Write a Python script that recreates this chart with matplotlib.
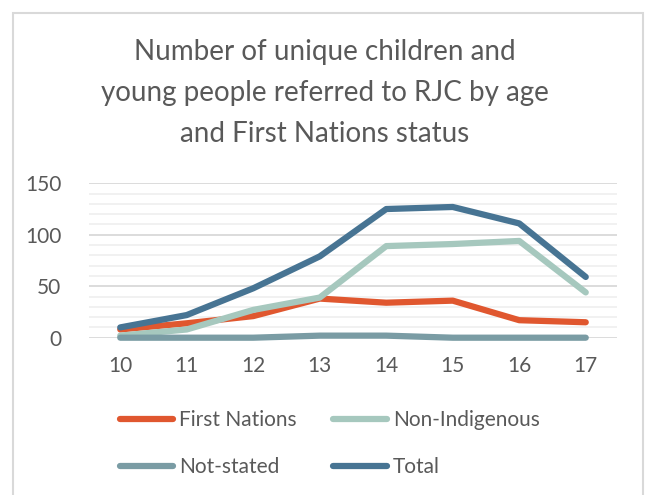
import matplotlib.pyplot as plt
from matplotlib.patches import Rectangle

ages = [10, 11, 12, 13, 14, 15, 16, 17]
first_nations = [8, 14, 21, 38, 34, 36, 17, 15]
non_indigenous = [2, 8, 27, 39, 89, 91, 94, 44]
not_stated = [0, 0, 0, 2, 2, 0, 0, 0]
total = [10, 22, 48, 79, 125, 127, 111, 59]

series = [
    ('First Nations', first_nations, '#E0572F'),
    ('Non-Indigenous', non_indigenous, '#A6C8BE'),
    ('Not-stated', not_stated, '#7A9CA4'),
    ('Total', total, '#477493'),
]

plt.rcParams['font.family'] = ['Lato', 'DejaVu Sans']
text_col = '#595959'

fig = plt.figure(figsize=(6.49, 4.95), dpi=100)
fig.patch.set_facecolor('white')

# chart area border
fig.patches.append(Rectangle((13 / 649, -0.05), 630 / 649, (495 - 13) / 495 + 0.05,
                             transform=fig.transFigure, fill=False,
                             edgecolor='#D9D9D9', linewidth=1.5))

ax = fig.add_axes([89 / 649, (495 - 337.7) / 495, 528 / 649, 154.4 / 495])

handles = {}
for name, vals, col in series:
    ln, = ax.plot(ages, vals, color=col, linewidth=4.5, solid_capstyle='round',
                  solid_joinstyle='round', clip_on=False, label=name, zorder=3)
    handles[name] = ln

ax.set_xlim(9.53, 17.47)
ax.set_ylim(0, 150)
ax.set_yticks([0, 50, 100, 150])
ax.set_yticks(range(10, 150, 10), minor=True)
ax.set_xticks(ages)
ax.grid(axis='y', which='major', color='#D9D9D9', linewidth=1.3, zorder=0)
ax.grid(axis='y', which='minor', color='#F0F0F0', linewidth=1.3, zorder=0)
ax.tick_params(axis='both', which='both', length=0, labelsize=15, labelcolor=text_col)
ax.tick_params(axis='y', pad=20)
ax.tick_params(axis='x', pad=13)
for s in ax.spines.values():
    s.set_visible(False)

fig.text(0.5, 1 - 93 / 495, 'Number of unique children and\nyoung people referred to RJC by age\nand First Nations status',
         ha='center', va='center', fontsize=20, color=text_col, linespacing=1.72)

# legend fills columns first, so order the handles to read across rows
order = ['First Nations', 'Not-stated', 'Non-Indigenous', 'Total']
leg = fig.legend(handles=[handles[k] for k in order], ncol=2, loc='upper left',
                 bbox_to_anchor=(120 / 649, 1 - 410 / 495),
                 frameon=False, fontsize=15, labelcolor=text_col, handlelength=2.55,
                 handletextpad=0.3, columnspacing=1.75, labelspacing=1.3,
                 borderpad=0, borderaxespad=0)
for h in leg.get_lines():
    h.set_solid_capstyle('round')
    h.set_linewidth(4.5)

fig.savefig('out.png', dpi=100)
